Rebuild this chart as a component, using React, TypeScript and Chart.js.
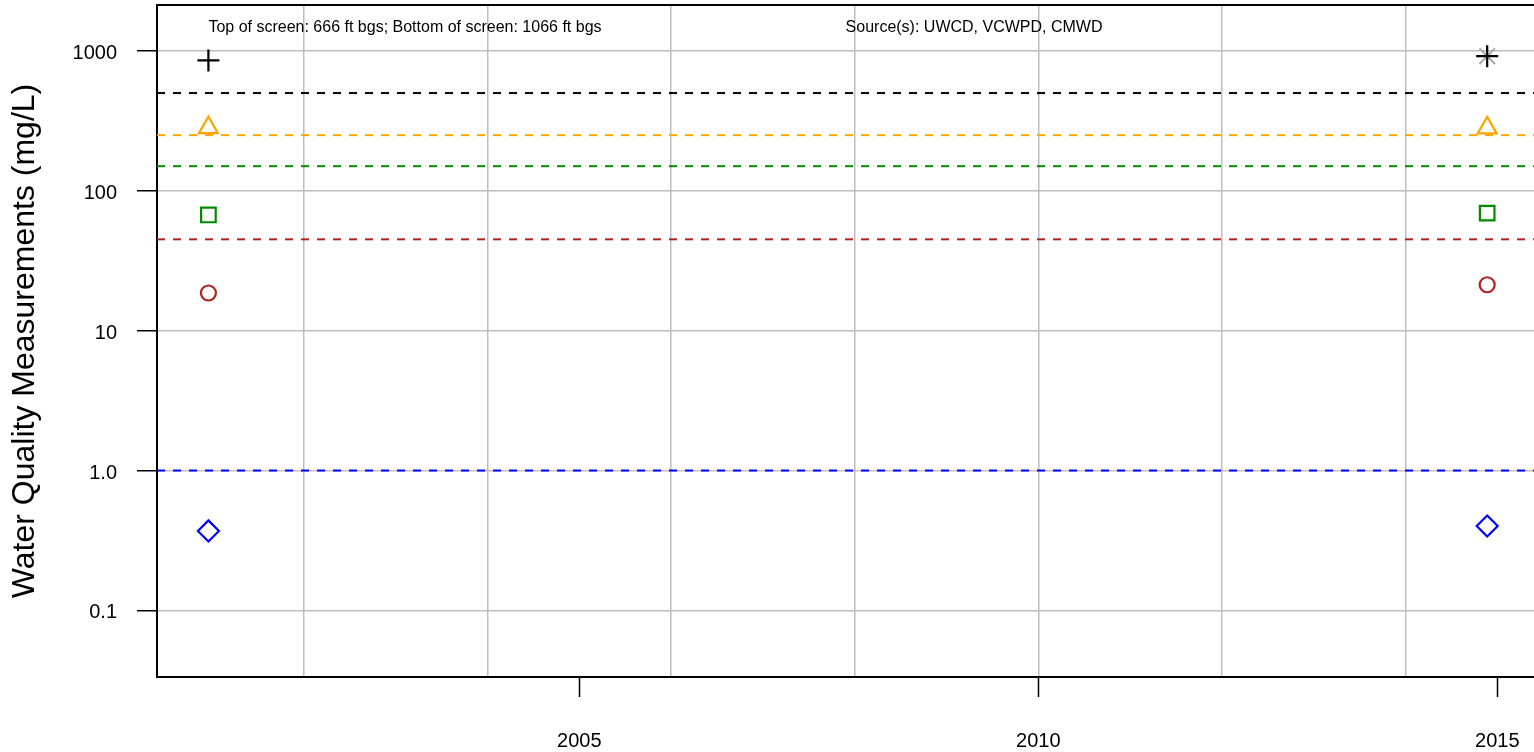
import React, { useEffect, useRef } from "react";
import { Chart, registerables } from "chart.js";

Chart.register(...registerables);

// ---- data ----
const sampleDates = [2000.96, 2014.89];
const tdsValues = [855, 918];
const sulfateValues = [283, 282];
const chlorideValues = [67.2, 69.3];
const nitrateValues = [18.6, 21.3];
const boronValues = [0.37, 0.401];
const extraMarkerDates = [2014.89];
const extraMarkerValues = [918];

const seriesNames = ["TDS", "Sulfate", "Chloride", "Nitrate", "Boron"];
const seriesValues = [tdsValues, sulfateValues, chlorideValues, nitrateValues, boronValues];
const seriesColors = ["#000000", "#FFA500", "#008B00", "#B22222", "#0000FF"];
const seriesStyles = ["cross", "triangle", "rect", "circle", "rectRot"];
const seriesRadii = [11, 11, 10.3, 7.5, 10.5];

const limitNames = ["TDS limit", "Sulfate limit", "Chloride limit", "Nitrate limit", "Boron limit"];
const limitValues = [500, 250, 150, 45, 1.0];
const limitColors = ["#000000", "#FFA500", "#008B00", "#B22222", "#0000FF"];

const xMin = 2000.4;
const xMax = 2015.4;
const yMin = 0.0334;
const yMax = 2131;
const xTickYears = [2005, 2010, 2015];
const gridYears = [2002, 2004, 2006, 2008, 2010, 2012, 2014];
const yTickValues = [0.1, 1, 10, 100, 1000];
const yTickLabels = ["0.1", "1.0", "10", "100", "1000"];

const yTitle = "Water Quality Measurements (mg/L)";
const noteScreen = "Top of screen: 666 ft bgs; Bottom of screen: 1066 ft bgs";
const noteSource = "Source(s): UWCD, VCWPD, CMWD";
const noteValue = 1470;
const sourceNoteYear = 2009.3;

const FONT = '"Liberation Sans", Arial, Helvetica, sans-serif';
const GRID = "#BEBEBE";

const zeroPad = (s: any) => {
  s.paddingTop = 0;
  s.paddingBottom = 0;
  s.paddingLeft = 0;
  s.paddingRight = 0;
};

const notesPlugin = {
  id: "notes",
  afterDatasetsDraw(chart: any) {
    const { ctx } = chart;
    const x = chart.scales.x;
    const y = chart.scales.y;
    ctx.save();
    ctx.font = `16px ${FONT}`;
    ctx.fillStyle = "#000";
    ctx.textBaseline = "middle";
    ctx.textAlign = "left";
    ctx.fillText(noteScreen, x.getPixelForValue(sampleDates[0]), y.getPixelForValue(noteValue));
    ctx.textAlign = "center";
    ctx.fillText(noteSource, x.getPixelForValue(sourceNoteYear), y.getPixelForValue(noteValue));
    ctx.restore();
  },
};

export default function App() {
  const ref = useRef<HTMLCanvasElement | null>(null);

  useEffect(() => {
    if (!ref.current) return;
    Chart.defaults.font.family = FONT;

    const limitSets = limitValues.map((v, i) => ({
      type: "line" as const,
      label: limitNames[i],
      data: [
        { x: xMin, y: v },
        { x: xMax, y: v },
      ],
      showLine: true,
      borderColor: limitColors[i],
      borderWidth: 2,
      borderDash: [8, 8],
      pointRadius: 0,
      fill: false,
      order: 10,
    }));

    const pointSets = seriesValues.map((vals, i) => ({
      type: "scatter" as const,
      label: seriesNames[i],
      data: vals.map((v, j) => ({ x: sampleDates[j], y: v })),
      showLine: false,
      pointStyle: seriesStyles[i],
      pointRadius: seriesRadii[i],
      pointBorderColor: seriesColors[i],
      pointBackgroundColor: "rgba(0,0,0,0)",
      pointBorderWidth: 2.2,
      order: 1,
    }));

    const extraSet = {
      type: "scatter" as const,
      label: "extra",
      data: extraMarkerValues.map((v, j) => ({ x: extraMarkerDates[j], y: v })),
      showLine: false,
      pointStyle: "crossRot",
      pointRadius: 11,
      pointBorderColor: "#A8A8A8",
      pointBackgroundColor: "rgba(0,0,0,0)",
      pointBorderWidth: 2,
      order: 2,
    };

    const chart = new Chart(ref.current, {
      type: "scatter",
      data: { datasets: [...pointSets, extraSet, ...limitSets] as any },
      options: {
        animation: false,
        responsive: false,
        events: [],
        layout: { autoPadding: false, padding: { top: 5, left: 0, right: 0, bottom: 0 } },
        plugins: { legend: { display: false }, tooltip: { enabled: false } },
        scales: {
          x: {
            type: "linear",
            position: "bottom",
            min: xMin,
            max: xMax,
            afterBuildTicks: (s: any) => {
              s.ticks = xTickYears.map((v) => ({ value: v }));
            },
            afterFit: (s: any) => {
              s.height = 75;
              zeroPad(s);
            },
            ticks: {
              font: { size: 20 },
              color: "#000",
              padding: 32,
              maxRotation: 0,
              autoSkip: false,
              callback: (v: any) => String(v),
            },
            grid: {
              drawOnChartArea: false,
              drawTicks: true,
              tickLength: 20,
              tickColor: "#000",
              tickWidth: 1.5,
              color: "#000",
            },
            border: { display: true, color: "#000", width: 2 },
          },
          xg: {
            type: "linear",
            position: "bottom",
            min: xMin,
            max: xMax,
            afterBuildTicks: (s: any) => {
              s.ticks = gridYears.map((v) => ({ value: v }));
            },
            afterFit: (s: any) => {
              s.height = 0;
              zeroPad(s);
            },
            ticks: { display: false },
            grid: { color: GRID, lineWidth: 1.5, drawTicks: false },
            border: { display: false },
          },
          xt: {
            type: "linear",
            position: "top",
            min: xMin,
            max: xMax,
            afterFit: (s: any) => {
              s.height = 0;
              zeroPad(s);
            },
            ticks: { display: false },
            grid: { display: false },
            border: { display: true, color: "#000", width: 2 },
          },
          y: {
            type: "logarithmic",
            position: "left",
            min: yMin,
            max: yMax,
            afterBuildTicks: (s: any) => {
              s.ticks = yTickValues.map((v) => ({ value: v }));
            },
            afterFit: (s: any) => {
              s.width = 157;
              zeroPad(s);
            },
            ticks: {
              font: { size: 20 },
              color: "#000",
              padding: 20,
              labelOffset: 2.5,
              autoSkip: false,
              callback: (v: any) => {
                const k = yTickValues.indexOf(Number(v));
                return k >= 0 ? yTickLabels[k] : "";
              },
            },
            grid: {
              color: GRID,
              lineWidth: 1.5,
              tickLength: 20,
              tickColor: "#000",
              tickWidth: 1.5,
            },
            border: { display: true, color: "#000", width: 2 },
            title: {
              display: true,
              text: yTitle,
              color: "#000",
              font: { size: 32 },
              padding: { top: 6, bottom: 0 },
            },
          },
        } as any,
      },
      plugins: [notesPlugin],
    });

    return () => chart.destroy();
  }, []);

  return (
    <div style={{ position: "absolute", left: 0, top: 0, width: 1534, height: 752, background: "#fff" }}>
      <canvas ref={ref} width={1534} height={752} style={{ display: "block" }} />
    </div>
  );
}
